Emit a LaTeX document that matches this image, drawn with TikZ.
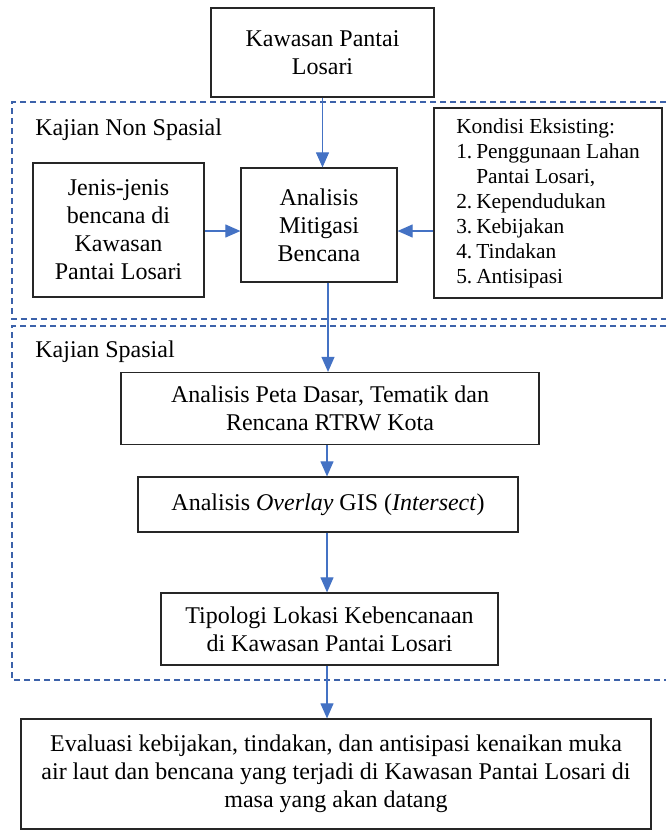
\documentclass[tikz,border=0pt]{standalone}
\usepackage{fontspec}
\setmainfont{Liberation Serif}
\usetikzlibrary{positioning,arrows.meta}
\definecolor{flowblue}{RGB}{68,114,196}
\definecolor{dashblue}{RGB}{60,98,170}
\tikzset{arrow/.style={draw=flowblue, line width=0.55pt, -{Triangle[length=7.5pt,width=6.5pt]}}}

\begin{document}
\begin{tikzpicture}[x=0.5pt,y=-0.5pt,
boxnode/.style={rectangle, draw=black!85, line width=0.6pt, align=center, inner sep=2pt,
  font=\fontsize{12}{14}\selectfont},
groupline/.style={draw=dashblue, line width=0.6pt, dash pattern=on 3pt off 2pt},
grouplabel/.style={anchor=west, inner sep=0pt, font=\fontsize{12}{14}\selectfont},
]
\useasboundingbox (0,0) rectangle (666,831);

%Groups
\draw[groupline] (666,102) -| (12,319) -- (666,319);
\draw[groupline] (666,326) -| (12,680) -- (666,680);
\node[grouplabel] (nonspasial) at (35,130) {Kajian Non Spasial};
\node[grouplabel] (spasial)    at (35,352) {Kajian Spasial};

%Nodes
\node[boxnode, minimum width=111.5pt, minimum height=44.5pt] (pantai)   at (322.5,52.5) {Kawasan Pantai\\Losari};
\node[boxnode, minimum width=85.5pt,  minimum height=67pt]   (jenis)    at (118.5,230)  {Jenis-jenis\\bencana di\\Kawasan\\Pantai Losari};
\node[boxnode, minimum width=78pt,    minimum height=57pt]   (mitigasi) at (319,225)    {Analisis\\Mitigasi\\Bencana};
\node[boxnode, minimum width=114pt,   minimum height=95pt, align=left,
      font=\fontsize{10.7}{12.5}\selectfont]                  (kondisi)  at (548,203)
  {Kondisi Eksisting:\\
   \makebox[10pt][l]{1.}Penggunaan Lahan\\
   \hspace*{10pt}Pantai Losari,\\
   \makebox[10pt][l]{2.}Kependudukan\\
   \makebox[10pt][l]{3.}Kebijakan\\
   \makebox[10pt][l]{4.}Tindakan\\
   \makebox[10pt][l]{5.}Antisipasi};
\node[boxnode, minimum width=209pt,   minimum height=36pt]   (peta)     at (330,408.5)  {Analisis Peta Dasar, Tematik dan\\Rencana RTRW Kota};
\node[boxnode, minimum width=190pt,   minimum height=27.5pt] (overlay)  at (328,504.5)  {Analisis \textit{Overlay} GIS (\textit{Intersect})};
\node[boxnode, minimum width=168.5pt, minimum height=36pt]   (tipologi) at (329.5,629)  {Tipologi Lokasi Kebencanaan\\di Kawasan Pantai Losari};
\node[boxnode, minimum width=315pt,   minimum height=55pt]   (evaluasi) at (336,774)    {Evaluasi kebijakan, tindakan, dan antisipasi kenaikan muka\\air laut dan bencana yang terjadi di Kawasan Pantai Losari di\\masa yang akan datang};
\coordinate (axis) at (327,0);

%Lines
\draw[arrow] (pantai.south) -- (mitigasi.north -| pantai.south);
\draw[arrow] (jenis.east |- 0,231) -- (mitigasi.west |- 0,231);
\draw[arrow] (kondisi.west |- 0,231) -- (mitigasi.east |- 0,231);
\draw[arrow] (mitigasi.south -| 328,0) -- (peta.north -| 328,0);
\draw[arrow] (peta.south -| axis) -- (overlay.north -| axis);
\draw[arrow] (overlay.south -| axis) -- (tipologi.north -| axis);
\draw[arrow] (tipologi.south -| axis) -- (evaluasi.north -| axis);
\end{tikzpicture}
\end{document}
